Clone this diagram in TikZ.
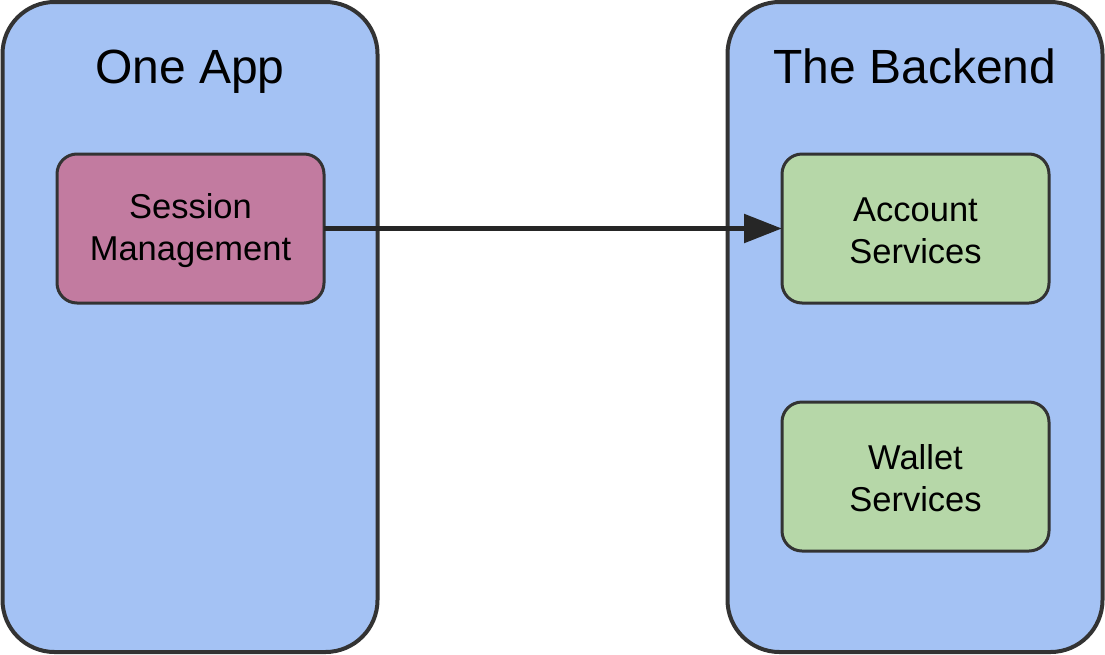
\documentclass[tikz,border=0pt]{standalone}
\usepackage{fontspec}
\setmainfont{Liberation Sans}
\usetikzlibrary{positioning, arrows.meta}

\definecolor{appblue}{HTML}{A4C2F4}
\definecolor{sessionpink}{HTML}{C27BA0}
\definecolor{servicegreen}{HTML}{B6D7A8}
\definecolor{edgegray}{HTML}{333333}

\begin{document}
\begin{tikzpicture}[x=1pt, y=-1pt,
    container/.style={rectangle, rounded corners=52pt, draw=edgegray, line width=4pt,
        fill=appblue, minimum width=375pt, minimum height=650pt, inner sep=0pt, outer sep=0pt},
    title/.style={font=\fontsize{48}{58}\selectfont, anchor=base, inner sep=0pt},
    module/.style={rectangle, rounded corners=20pt, draw=edgegray, line width=3pt,
        minimum width=267pt, minimum height=149pt, inner sep=0pt, outer sep=0pt},
    modtext/.style={align=center, font=\fontsize{34.5}{42}\selectfont, yshift=-2pt},
    link/.style={draw=black!85, line width=5.5pt, -{Triangle[length=38pt, width=28pt]}}]
                \useasboundingbox (0, 0) rectangle (1105, 654);
                \node[container] (app) at (190, 327) {};
                \node[container] (backend) at (915, 327) {};
                \node[title] (apptitle) at (190, 83) {One App};
                \node[title] (backendtitle) at (915, 83) {The Backend};
                \node[module, fill=sessionpink] (session) at (190.5, 228.5) {};
                \node[module, fill=servicegreen] (account) at (915.5, 228.5) {};
                \node[module, fill=servicegreen] (wallet) at (915.5, 476.5) {};
                \node[modtext] (sessiontext) at (session) {Session\\Management};
                \node[modtext] (accounttext) at (account) {Account\\Services};
                \node[modtext] (wallettext) at (wallet) {Wallet\\Services};
                \draw[link] (session) -- (account);
            \end{tikzpicture}
\end{document}
